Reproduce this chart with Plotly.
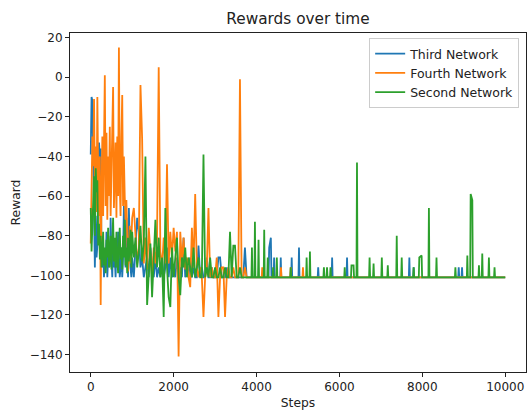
import plotly.graph_objects as go

# Rewards are logged every 20 steps for the first 1000 steps,
# then every 40 steps until ~3800; after that only the episodes that
# left the -101 floor are listed, each with its neighbouring floor values.
FINE_STRIDE = 20
COARSE_START = 1000
COARSE_STRIDE = 40

# ---- Third Network -------------------------------------------------------
third_fine = [
    -39, -10, -12, -45, -88, -96, -70, -91, -85, -60,
    -33, -40, -36, -91, -96, -86, -101, -91, -96, -78,
    -101, -91, -86, -96, -71, -91, -101, -78, -96, -91,
    -101, -86, -96, -78, -91, -101, -96, -86, -101, -91,
    -65, -80, -96, -71, -86, -101, -66, -91, -96, -101,
]
third_coarse = [
    -91, -101, -86, -71, -78,
    -96, -91, -101, -96, -91, -101, -86, -96, -101, -91,
    -101, -96, -101, -91, -101, -96, -86, -101, -91, -101,
    -96, -101, -91, -101, -96, -101, -81, -101, -96, -101,
    -91, -101, -96, -101, -101, -85, -101, -96, -101, -101,
    -91, -101, -101, -96, -101, -101, -101, -91, -91, -101,
    -101, -101, -96, -101, -101, -101, -101, -101, -101, -101,
    -101, -101, -101, -86, -101,
]
third_late_steps = [
    3800,
    4290, 4305, 4330, 4345, 4360,
    4412, 4424, 4436,
    4572, 4584, 4596,
    4836, 4848, 4860,
    5012, 5024, 5036,
    5475, 5487, 5499,
    5811, 5823, 5835,
    6171, 6183, 6195,
    7674, 7686, 7698,
    7778, 7790, 7802,
    8865, 8877, 8889,
    8945, 8957, 8969,
    9999,
]
third_late_rewards = [
    -101,
    -101, -86, -81, -81, -101,
    -101, -91, -101,
    -101, -91, -101,
    -101, -91, -101,
    -101, -86, -101,
    -101, -96, -101,
    -101, -91, -101,
    -101, -91, -101,
    -101, -91, -101,
    -101, -96, -101,
    -101, -96, -101,
    -101, -96, -101,
    -101,
]

# ---- Fourth Network ------------------------------------------------------
fourth_fine = [
    -84, -60, -30, -45, -11, -55, -35, -68, -10, -50,
    -70, -40, -115, -60, -30, -70, -45, 1, -65, -28,
    -72, -40, -60, -25, -70, -45, -35, -5, -66, -40,
    -33, -71, -30, -60, 15, -55, -70, -30, -9, -65,
    -40, -60, -72, -62, -85, -98, -88, -75, -94, -80,
]
fourth_coarse = [
    -71, -66, -81, -94, -86,
    -4, -31, -94, -81, -97, -76, -91, -101, -86, -94,
    -81, 5, -88, -96, -81, -94, -44, -94, -78, -91,
    -76, -88, -78, -141, -78, -94, -81, -97, -91, -101,
    -106, -76, -96, -59, -96, -101, -96, -101, -121, -101,
    -96, -66, -101, -96, -101, -101, -91, -121, -101, -96,
    -96, -121, -101, -96, -101, -101, -96, -101, -101, -101,
    -1, -101, -101, -96, -101,
]
fourth_late_steps = [
    4125, 4137, 4149,
    4578, 4590, 4602,
    4812, 4824, 4836,
    5108, 5120, 5132,
    9999,
]
fourth_late_rewards = [
    -101, -96, -101,
    -101, -96, -101,
    -101, -96, -101,
    -101, -96, -101,
    -101,
]

# ---- Second Network ------------------------------------------------------
second_fine = [
    -66, -88, -75, -60, -50, -80, -46, -58, -52, -85,
    -74, -92, -80, -96, -84, -78, -95, -86, -99, -82,
    -91, -76, -96, -86, -80, -97, -88, -71, -93, -81,
    -96, -78, -90, -99, -84, -76, -92, -86, -97, -80,
    -91, -72, -95, -86, -99, -81, -93, -84, -77, -96,
]
second_coarse = [
    -78, -91, -81, -96, -88,
    -75, -93, -84, -40, -115, -96, -84, -111, -91, -72,
    -96, -81, -101, -91, -121, -66, -96, -111, -116, -86,
    -101, -91, -81, -101, -110, -91, -96, -86, -101, -91,
    -96, -101, -86, -101, -96, -91, -101, -101, -39, -101,
    -96, -101, -91, -101, -101, -96, -101, -101, -96, -101,
    -101, -96, -101, -101, -78, -101, -85, -85, -101, -101,
    -96, -101, -101, -101, -101,
]
second_late_steps = [
    3877, 3889, 3901,
    3949, 3961, 3973,
    4036, 4048, 4060,
    4173, 4185, 4197,
    4258, 4270, 4282,
    4388, 4400, 4412,
    4477, 4489, 4501,
    4812, 4824, 4836,
    5196, 5208, 5220,
    5276, 5288, 5300,
    5613, 5625, 5637,
    5688, 5700, 5712,
    5772, 5784, 5796,
    6115, 6127, 6139,
    6278, 6290, 6340, 6352,
    6411, 6423, 6435,
    6715, 6727, 6739,
    6811, 6823, 6835,
    7010, 7022, 7034,
    7154, 7166, 7178,
    7370, 7382, 7394,
    7490, 7502, 7514,
    7778, 7790, 7802,
    7914, 7926, 7982, 7994,
    8146, 8158, 8170,
    8329, 8341, 8353,
    8785, 8797, 8809,
    9073, 9085, 9097,
    9153, 9165, 9205, 9217,
    9353, 9365, 9377,
    9433, 9445, 9457,
    9593, 9605, 9617,
    9729, 9741, 9753,
    9999,
]
second_late_rewards = [
    -101, -86, -101,
    -101, -73, -101,
    -101, -82, -101,
    -101, -77, -101,
    -101, -91, -101,
    -101, -96, -101,
    -101, -91, -101,
    -101, -96, -101,
    -101, -91, -101,
    -101, -88, -101,
    -101, -96, -101,
    -101, -96, -101,
    -101, -96, -101,
    -101, -96, -101,
    -101, -95, -95, -101,
    -101, -43, -101,
    -101, -91, -101,
    -101, -94, -101,
    -101, -91, -101,
    -101, -95, -101,
    -101, -80, -101,
    -101, -91, -101,
    -101, -96, -101,
    -101, -91, -90, -101,
    -101, -66, -101,
    -101, -91, -101,
    -101, -96, -101,
    -101, -90, -101,
    -101, -59, -62, -101,
    -101, -95, -101,
    -101, -89, -101,
    -101, -91, -101,
    -101, -96, -101,
    -101,
]

series_names = ["Third Network", "Fourth Network", "Second Network"]
series_colors = ["#1f77b4", "#ff7f0e", "#2ca02c"]

x_tick_values = [0, 2000, 4000, 6000, 8000, 10000]
x_tick_labels = ["0", "2000", "4000", "6000", "8000", "10000"]
y_tick_values = [20, 0, -20, -40, -60, -80, -100, -120, -140]
y_tick_labels = ["20", "0", "\u221220", "\u221240", "\u221260", "\u221280",
                 "\u2212100", "\u2212120", "\u2212140"]


def full_series(fine, coarse, late_steps, late_rewards):
    assert len(late_steps) == len(late_rewards)
    steps = ([i * FINE_STRIDE for i in range(len(fine))]
             + [COARSE_START + i * COARSE_STRIDE for i in range(len(coarse))]
             + late_steps)
    return steps, fine + coarse + late_rewards


series = [
    full_series(third_fine, third_coarse, third_late_steps, third_late_rewards),
    full_series(fourth_fine, fourth_coarse, fourth_late_steps, fourth_late_rewards),
    full_series(second_fine, second_coarse, second_late_steps, second_late_rewards),
]

FONT = "DejaVu Sans"
INK = "#222222"

fig = go.Figure()
for (xs, ys), name, color in zip(series, series_names, series_colors):
    fig.add_trace(go.Scatter(
        x=xs, y=ys, mode="lines", name=name,
        line=dict(color=color, width=1.8),
    ))

axis_common = dict(
    showgrid=False, zeroline=False,
    showline=True, mirror=True, linecolor=INK, linewidth=1,
    ticks="outside", ticklen=4, tickwidth=1, tickcolor=INK,
    tickfont=dict(family=FONT, size=12, color=INK),
)

fig.update_layout(
    width=527, height=416,
    margin=dict(l=70, r=1, t=33, b=44),
    paper_bgcolor="white", plot_bgcolor="white",
    font=dict(family=FONT, size=12, color=INK),
    title=dict(text="Rewards over time", x=0.5, xref="paper",
               y=0.955, yref="container", yanchor="middle",
               font=dict(family=FONT, size=15.3, color=INK)),
    xaxis=dict(range=[-500, 10500], tickvals=x_tick_values,
               ticktext=x_tick_labels,
               title=dict(text="Steps", standoff=4,
                          font=dict(family=FONT, size=12.3)),
               **axis_common),
    yaxis=dict(range=[-148.8, 22.3], tickvals=y_tick_values,
               ticktext=y_tick_labels,
               title=dict(text="Reward", standoff=6,
                          font=dict(family=FONT, size=12.3)),
               **axis_common),
    legend=dict(x=0.985, y=0.985, xanchor="right", yanchor="top",
                bgcolor="rgba(255,255,255,0.85)", bordercolor="#cccccc",
                borderwidth=1, font=dict(family=FONT, size=12.5),
                tracegroupgap=0),
    showlegend=True,
)

fig.write_html("out.html")
